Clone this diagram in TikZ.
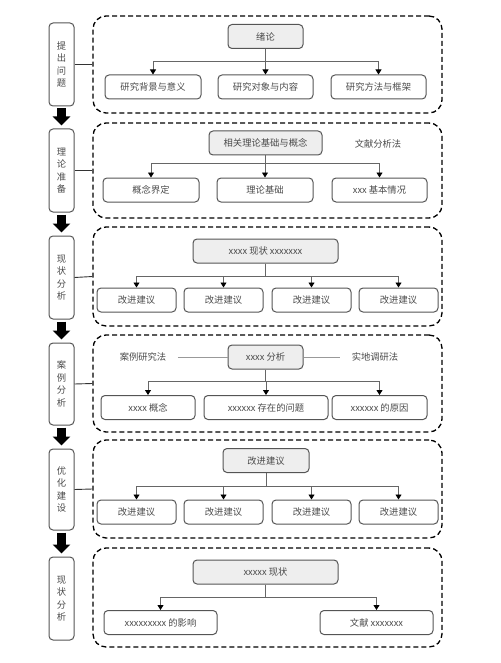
\documentclass[tikz,border=0pt]{standalone}
\usepackage{fontspec}
\newfontfamily\cjk{Noto Sans CJK SC}
\usetikzlibrary{arrows.meta}
\definecolor{txtc}{HTML}{4A4A4A}
\definecolor{boxc}{HTML}{555555}
\definecolor{fillc}{HTML}{EEEEEE}
\definecolor{linec}{HTML}{666666}
\begin{document}
\begin{tikzpicture}[x=1pt,y=-1pt,
  txt/.style={font=\cjk\fontsize{9.3}{11}\selectfont, text=txtc},
  box/.style={txt, draw=boxc, line width=1pt, rounded corners=4pt, minimum height=24pt, inner sep=0pt},
  parent/.style={box, fill=fillc},
  side/.style={txt, draw=boxc, line width=1pt, rounded corners=4pt, minimum width=25pt, inner sep=0pt, align=center, font=\cjk\fontsize{9.3}{12.5}\selectfont},
  cont/.style={draw=black, line width=1.3pt, dash pattern=on 5pt off 3pt, rounded corners=13pt, minimum width=349pt, inner sep=0pt},
  link/.style={draw=black!80, line width=0.9pt},
  arr/.style={draw=linec, line width=0.9pt, -{Triangle[width=6pt,length=5pt,fill=black,color=black]}},
  thin/.style={draw=gray!80, line width=0.6pt},
  big/.style={draw=black, line width=9pt, -{Triangle[width=17pt,length=9pt]}, shorten <=2pt, shorten >=3pt}
]
\useasboundingbox (0,0) rectangle (500,663);

% side boxes
\node[side, minimum height=83pt] (s1) at (61.5,64.5) {提\\出\\问\\题};
\node[side, minimum height=83pt] (s2) at (61.5,170.5) {理\\论\\准\\备};
\node[side, minimum height=83pt] (s3) at (61.5,277.5) {现\\状\\分\\析};
\node[side, minimum height=82pt] (s4) at (61.5,384) {案\\例\\分\\析};
\node[side, minimum height=81pt] (s5) at (61.5,489.5) {优\\化\\建\\设};
\node[side, minimum height=83pt] (s6) at (61.5,598.5) {现\\状\\分\\析};

\draw[big] (s1) -- (s2);
\draw[big] (s2) -- (s3);
\draw[big] (s3) -- (s4);
\draw[big] (s4) -- (s5);
\draw[big] (s5) -- (s6);

% containers
\node[cont, minimum height=97pt] (c1) at (267.5,64.5) {};
\node[cont, minimum height=95pt] (c2) at (267.5,170.5) {};
\node[cont, minimum height=99pt] (c3) at (267.5,276.5) {};
\node[cont, minimum height=97pt] (c4) at (267.5,383.5) {};
\node[cont, minimum height=98pt] (c5) at (267.5,489) {};
\node[cont, minimum height=99pt] (c6) at (267.5,597.5) {};

\draw[link] (s1.east) -- (c1.west);
\draw[link] (s2.east) -- (c2.west);
\draw[link] (s3.east) -- (c3.west);
\draw[link] (s4.east) -- (c4.west);
\draw[link] (s5.east) -- (c5.west);

% bus levels
\coordinate (b1) at (0,61);
\coordinate (b2) at (0,163);
\coordinate (b3) at (0,276);
\coordinate (b4) at (0,381);
\coordinate (b5) at (0,486);
\coordinate (b6) at (0,597);

% ---- block 1
\node[parent, minimum width=75pt] (p1) at (265.5,36.5) {绪论};
\node[box, minimum width=96pt] (a11) at (153,87) {研究背景与意义};
\node[box, minimum width=95pt] (a12) at (265.5,87) {研究对象与内容};
\node[box, minimum width=95pt] (a13) at (378.5,87) {研究方法与框架};
\foreach \c in {a11,a12,a13} \draw[arr] (p1.south) -- (p1.south |- b1) -| (\c.north);

% ---- block 2
\node[parent, minimum width=113pt] (p2) at (265.5,143) {相关理论基础与概念};
\node[txt] (m2) at (378,144) {文献分析法};
\node[box, minimum width=96pt] (a21) at (151,190) {概念界定};
\node[box, minimum width=96pt] (a22) at (265,190) {理论基础};
\node[box, minimum width=95pt] (a23) at (379.5,190) {xxx 基本情况};
\foreach \c in {a21,a22,a23} \draw[arr] (p2.south) -- (p2.south |- b2) -| (\c.north);

% ---- block 3
\node[parent, minimum width=145pt] (p3) at (265.5,251) {xxxx 现状 xxxxxxx};
\node[box, minimum width=79pt] (a31) at (136.5,300) {改进建议};
\node[box, minimum width=79pt] (a32) at (223.5,300) {改进建议};
\node[box, minimum width=79pt] (a33) at (311.5,300) {改进建议};
\node[box, minimum width=79pt] (a34) at (398.5,300) {改进建议};
\foreach \c in {a31,a32,a33,a34} \draw[arr] (p3.south) -- (p3.south |- b3) -| (\c.north);

% ---- block 4
\node[parent, minimum width=75pt] (p4) at (265.5,357) {xxxx 分析};
\node[txt] (m41) at (143,357) {案例研究法};
\node[txt] (m42) at (375,357) {实地调研法};
\draw[thin, shorten <=8pt] (m41.east) -- (p4.west);
\draw[thin, shorten >=8pt] (p4.east) -- (m42.west);
\node[box, minimum width=94pt] (a41) at (148,407.5) {xxxx 概念};
\node[box, minimum width=124pt] (a42) at (266,407.5) {xxxxxx 存在的问题};
\node[box, minimum width=95pt] (a43) at (379.5,407.5) {xxxxxx 的原因};
\foreach \c in {a41,a42,a43} \draw[arr] (p4.south) -- (p4.south |- b4) -| (\c.north);

% ---- block 5
\node[parent, minimum width=86pt] (p5) at (266,460.5) {改进建议};
\node[box, minimum width=79pt] (a51) at (136.5,512) {改进建议};
\node[box, minimum width=79pt] (a52) at (223.5,512) {改进建议};
\node[box, minimum width=79pt] (a53) at (311.5,512) {改进建议};
\node[box, minimum width=79pt] (a54) at (398.5,512) {改进建议};
\foreach \c in {a51,a52,a53,a54} \draw[arr] (p5.south) -- (p5.south |- b5) -| (\c.north);

% ---- block 6
\node[parent, minimum width=145pt] (p6) at (265.5,572) {xxxxx 现状};
\node[box, minimum width=113pt] (a61) at (160.5,622.5) {xxxxxxxxx 的影响};
\node[box, minimum width=113pt] (a62) at (376.5,622.5) {文献 xxxxxxx};
\foreach \c in {a61,a62} \draw[arr] (p6.south) -- (p6.south |- b6) -| (\c.north);
\end{tikzpicture}
\end{document}
